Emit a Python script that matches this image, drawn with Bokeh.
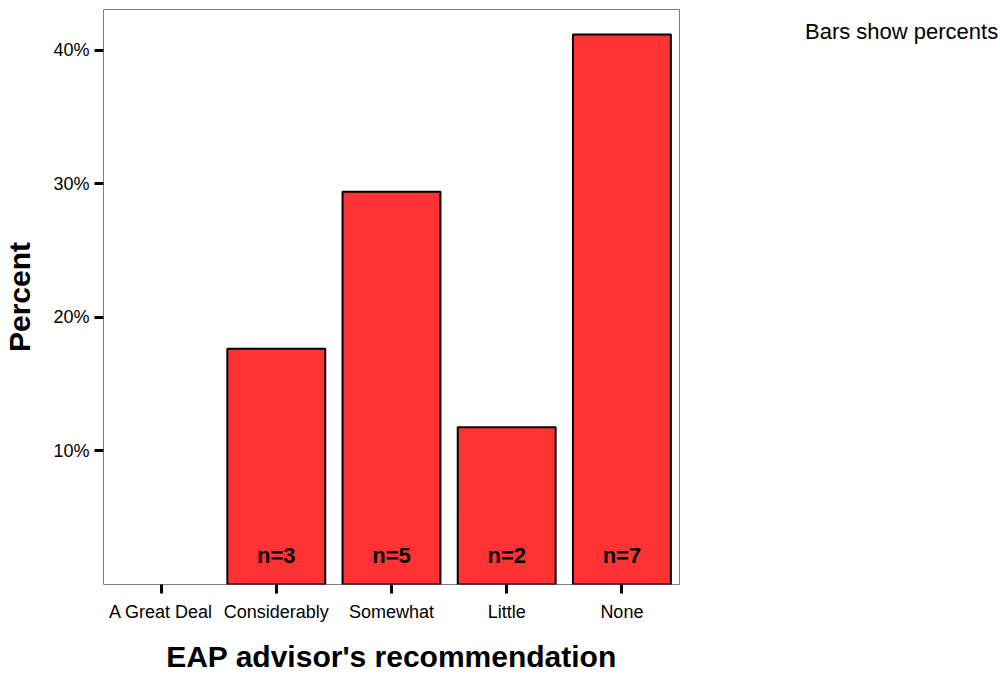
from bokeh.plotting import figure
from bokeh.models import FactorRange, Range1d, FixedTicker, ColumnDataSource, LabelSet, Div
from bokeh.layouts import row
from bokeh.embed import file_html
from bokeh.resources import INLINE
from bokeh.core.properties import value

categories = ["A Great Deal", "Considerably", "Somewhat", "Little", "None"]
counts = [0, 3, 5, 2, 7]
total = sum(counts)
percents = [c / total * 100 for c in counts]
ytick_values = [10, 20, 30, 40]
ytick_labels = {10: "10%", 20: "20%", 30: "30%", 40: "40%"}
note_text = "Bars show percents"

cats_bar = [c for c, n in zip(categories, counts) if n > 0]
pcts_bar = [p for p, n in zip(percents, counts) if n > 0]
labels_bar = ["n=%d" % n for n in counts if n > 0]

src = ColumnDataSource(dict(cat=cats_bar, pct=pcts_bar, lab=labels_bar,
                            ly=[1.2] * len(cats_bar)))

p = figure(width=700, height=675, x_range=FactorRange(*categories),
           y_range=Range1d(0, 43.05), output_backend="svg", toolbar_location=None,
           min_border_left=100, min_border_top=9, min_border_right=21, min_border_bottom=88)
p.xgrid.visible = False
p.ygrid.visible = False
p.outline_line_color = "#808080"
p.outline_line_width = 1

p.vbar(x="cat", top="pct", bottom=0, width=0.85, source=src,
       fill_color="#FF3333", line_color="black", line_width=2)

p.add_layout(LabelSet(x="cat", y="ly", text="lab", source=src, text_align="center",
                      text_baseline="bottom", text_font=value("Liberation Sans"),
                      text_font_size="22px", text_font_style="bold", text_color="black"))

for ax in (p.xaxis[0], p.yaxis[0]):
    ax.axis_line_color = None
    ax.major_tick_line_color = "black"
    ax.major_tick_line_width = 3
    ax.major_tick_out = 9
    ax.major_tick_in = 0
    ax.minor_tick_line_color = None
    ax.major_label_text_font = "Liberation Sans"
    ax.major_label_text_font_size = "18px"
    ax.major_label_text_color = "black"
    ax.axis_label_text_font = "Liberation Sans"
    ax.axis_label_text_font_size = "30px"
    ax.axis_label_text_font_style = "bold"
    ax.axis_label_text_color = "black"

p.yaxis.ticker = FixedTicker(ticks=ytick_values)
p.yaxis.major_label_overrides = ytick_labels
p.yaxis.axis_label = "Percent"
p.yaxis.major_label_standoff = 5
p.yaxis.axis_label_standoff = 14
p.xaxis.axis_label = "EAP advisor's recommendation"
p.xaxis.major_label_standoff = 8
p.xaxis.axis_label_standoff = 15

note = Div(text=note_text, width=295, height=60,
           styles={"font-family": "Liberation Sans", "font-size": "22px",
                   "color": "black", "padding-left": "100px", "padding-top": "11px",
                   "white-space": "nowrap"})

layout = row(p, note)
open("out.html", "w").write(file_html(layout, INLINE))
